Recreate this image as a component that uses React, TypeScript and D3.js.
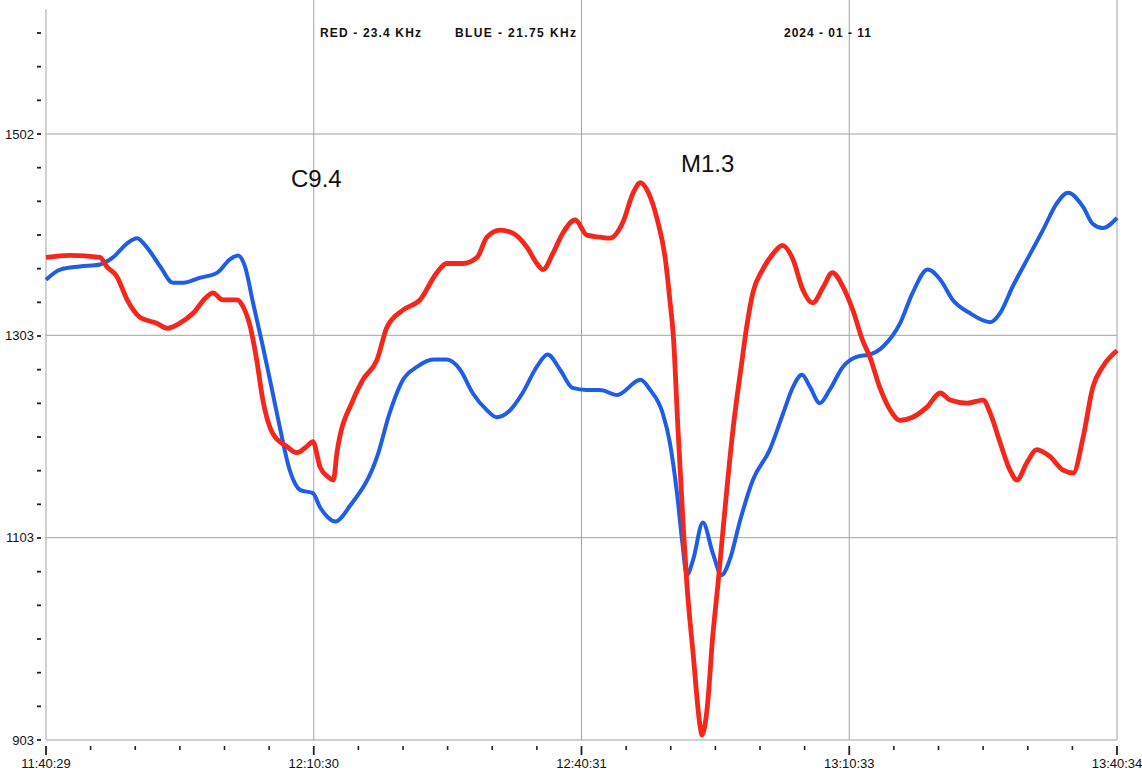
import React from "react";
import * as d3 from "d3";

// ---- data (minutes after 11:40:29, receiver level) ----
const redMinutes = [0, 2.7, 6.05, 6.8, 7.95, 9.1, 10.5, 12.4, 13.6, 15.0, 16.5, 18.0, 18.7, 19.8, 21.4, 22.1, 22.9, 23.6, 24.3, 25.4, 27.0, 28.1, 29.2, 29.9, 30.7, 31.6, 32.2, 32.6, 34.4, 35.5, 37.1, 38.2, 40.0, 41.9, 43.8, 44.9, 46.7, 48.3, 49.4, 50.9, 52.3, 53.9, 55.0, 55.7, 56.8, 57.9, 59.3, 60.6, 62.1, 63.2, 64.6, 65.8, 66.6, 67.5, 68.5, 69.4, 69.9, 70.3, 70.8, 71.4, 71.8, 72.5, 73.3, 73.5, 74.1, 74.7, 75.3, 75.9, 77.0, 78.0, 78.5, 79.2, 80.3, 81.5, 82.5, 83.7, 84.8, 85.9, 87.1, 88.1, 89.3, 90.4, 91.5, 92.3, 93.4, 94.6, 95.7, 97.1, 98.7, 100.2, 101.3, 103.2, 105.0, 105.8, 106.9, 108.0, 108.8, 109.9, 111.0, 112.5, 113.9, 115.1, 116.2, 117.3, 118.4, 120];
const redValues = [1380, 1382, 1380, 1371, 1361, 1338, 1321, 1315, 1310, 1315, 1325, 1341, 1345, 1338, 1338, 1331, 1311, 1279, 1239, 1206, 1193, 1187, 1193, 1198, 1173, 1163, 1160, 1187, 1239, 1259, 1279, 1311, 1328, 1338, 1365, 1374, 1374, 1380, 1400, 1407, 1404, 1390, 1374, 1368, 1384, 1404, 1417, 1402, 1400, 1399, 1414, 1444, 1454, 1444, 1417, 1378, 1338, 1301, 1212, 1114, 1058, 989, 916, 908, 936, 1005, 1058, 1115, 1212, 1279, 1311, 1345, 1368, 1384, 1392, 1378, 1348, 1335, 1351, 1365, 1351, 1328, 1298, 1282, 1252, 1229, 1219, 1222, 1232, 1246, 1239, 1236, 1239, 1226, 1197, 1170, 1160, 1177, 1190, 1183, 1170, 1167, 1202, 1252, 1272, 1288];

const blueMinutes = [0, 1.6, 3.8, 6.05, 7.5, 9.1, 10.2, 11.3, 12.8, 14.2, 15.4, 17.3, 19.2, 20.6, 21.5, 22.3, 23.2, 24.3, 25.4, 26.2, 27.3, 28.5, 29.9, 30.7, 31.6, 32.4, 34.1, 37.1, 38.5, 40.0, 41.6, 43.4, 44.9, 46.4, 47.8, 49.4, 50.5, 52.0, 53.4, 55.0, 56.2, 57.6, 59.0, 60.6, 62.1, 64.0, 66.6, 67.7, 69.1, 69.9, 70.7, 71.3, 71.8, 72.5, 73.6, 74.7, 75.7, 76.6, 77.8, 79.2, 81.1, 82.6, 83.7, 84.7, 85.6, 86.7, 87.8, 89.3, 90.9, 92.3, 93.8, 95.7, 97.1, 98.8, 100.2, 101.6, 103.5, 105.8, 106.9, 108.3, 110.3, 111.7, 113.3, 114.5, 116.2, 117.3, 118.4, 120];
const blueValues = [1358, 1368, 1371, 1373, 1380, 1394, 1399, 1390, 1371, 1355, 1355, 1360, 1365, 1378, 1382, 1371, 1335, 1292, 1246, 1212, 1170, 1150, 1147, 1133, 1123, 1119, 1135, 1183, 1226, 1259, 1272, 1279, 1279, 1269, 1246, 1229, 1222, 1229, 1246, 1272, 1284, 1269, 1251, 1249, 1249, 1244, 1259, 1249, 1226, 1197, 1147, 1098, 1066, 1081, 1118, 1088, 1066, 1081, 1121, 1160, 1190, 1226, 1252, 1264, 1252, 1236, 1249, 1272, 1282, 1284, 1292, 1315, 1345, 1368, 1358, 1338, 1325, 1316, 1325, 1351, 1384, 1407, 1434, 1444, 1430, 1413, 1409, 1419];

const yMajorValues = [903, 1103, 1303, 1502];
const yMajorLabels = ["903", "1103", "1303", "1502"];
const xMajorMinutes = [0, 30, 60, 90, 120];
const xMajorLabels = ["11:40:29", "12:10:30", "12:40:31", "13:10:33", "13:40:34"];

const headerTexts = ["RED - 23.4 KHz", "BLUE - 21.75 KHz", "2024 - 01 - 11"];
const flareLabels = ["C9.4", "M1.3"];

export default function App() {
  const W = 1142, H = 771;
  const left = 46, right = 1117, bottom = 740, topAxis = 9;
  const x = d3.scaleLinear().domain([0, 120]).range([left, right]);
  const y = d3.scaleLinear().domain([903, 1502]).range([bottom, 134]);

  const line = d3
    .line<[number, number]>()
    .x((d) => x(d[0]))
    .y((d) => y(d[1]))
    .curve(d3.curveMonotoneX);

  const redPts: [number, number][] = redMinutes.map((m, i) => [m, redValues[i]]);
  const bluePts: [number, number][] = blueMinutes.map((m, i) => [m, blueValues[i]]);

  const yStep = (1502 - 903) / 18;
  const yMinor = d3.range(0, 22).map((i) => 903 + i * yStep);
  const xMinor = d3.range(0, 25).map((i) => i * 5);

  const font = "'Liberation Sans', Arial, Helvetica, sans-serif";
  const grid = "#a3a3a3";

  return (
    <svg
      width={W}
      height={H}
      style={{ position: "absolute", left: 0, top: 0, background: "#fff" }}
      fontFamily={font}
    >
      <rect x={0} y={0} width={W} height={H} fill="#fff" />
      {yMajorValues.map((v) => (
        <line key={"hg" + v} x1={left} x2={right} y1={y(v)} y2={y(v)} stroke={grid} strokeWidth={1} />
      ))}
      {xMajorMinutes.map((m) => (
        <line
          key={"vg" + m}
          x1={x(m)}
          x2={x(m)}
          y1={m === 0 ? topAxis : 0}
          y2={bottom}
          stroke={grid}
          strokeWidth={1}
        />
      ))}
      {yMinor.map((v, i) => (
        <line key={"yt" + i} x1={37} x2={41} y1={y(v)} y2={y(v)} stroke="#222" strokeWidth={1.8} />
      ))}
      {yMajorValues.map((v, i) => (
        <text key={"yl" + v} x={34} y={y(v)} dy="0.36em" textAnchor="end" fontSize={13} fill="#111">
          {yMajorLabels[i]}
        </text>
      ))}
      {xMinor.map((m) => {
        const major = m % 30 === 0;
        return (
          <line
            key={"xt" + m}
            x1={x(m)}
            x2={x(m)}
            y1={746}
            y2={major ? 755 : 750}
            stroke="#222"
            strokeWidth={major ? 1.8 : 1.6}
          />
        );
      })}
      {xMajorMinutes.map((m, i) => (
        <text key={"xl" + m} x={x(m)} y={768} textAnchor="middle" fontSize={13} fill="#111">
          {xMajorLabels[i]}
        </text>
      ))}
      <text x={320} y={37} fontSize={12} fontWeight="bold" fill="#111" textLength={101} lengthAdjust="spacing">
        {headerTexts[0]}
      </text>
      <text x={455} y={37} fontSize={12} fontWeight="bold" fill="#111" textLength={121} lengthAdjust="spacing">
        {headerTexts[1]}
      </text>
      <text x={784} y={37} fontSize={12} fontWeight="bold" fill="#111" textLength={87} lengthAdjust="spacing">
        {headerTexts[2]}
      </text>
      <path d={line(bluePts) || ""} fill="none" stroke="#1f5ce8" strokeWidth={4} strokeLinejoin="round" />
      <path d={line(redPts) || ""} fill="none" stroke="#f5261a" strokeWidth={4.8} strokeLinejoin="round" />
      <text x={291} y={187} fontSize={24} fill="#111">
        {flareLabels[0]}
      </text>
      <text x={681} y={172} fontSize={24} fill="#111">
        {flareLabels[1]}
      </text>
    </svg>
  );
}
